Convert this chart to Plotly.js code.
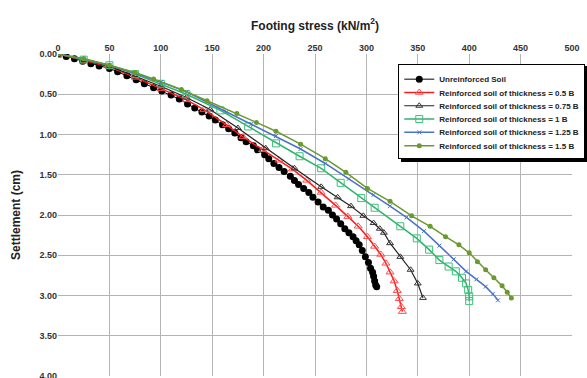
<!DOCTYPE html>
<html>
<head>
<meta charset="utf-8">
<script src="https://cdn.plot.ly/plotly-3.0.1.min.js"></script>
<style>html,body{margin:0;padding:0;background:#fff;overflow:hidden;}#chart{width:587px;height:378px;}</style>
</head>
<body>
<div id="chart"></div>
<script>
const seriesNames = [
  "Unreinforced Soil",
  "Reinforced soil of thickness = 0.5 B",
  "Reinforced soil of thickness = 0.75 B",
  "Reinforced soil of thickness = 1 B",
  "Reinforced soil of thickness = 1.25 B",
  "Reinforced soil of thickness = 1.5 B"
];

const unrStress = [0,8,16,24,32,40,50,58,67,76,84,93,101,110,118,126,133,140,147,153,160,166,172,178,183,190,194,201,205,210,215,220,226,230,234,239,244,248,253,258,263,267,271,275,279,283,287,290,293,296,299,302,304,306,307,308,309,310];
const unrSettle = [0,0.03,0.06,0.09,0.12,0.15,0.18,0.22,0.27,0.32,0.37,0.42,0.46,0.51,0.56,0.62,0.67,0.72,0.77,0.82,0.88,0.93,0.98,1.04,1.09,1.14,1.19,1.25,1.30,1.36,1.41,1.46,1.52,1.57,1.62,1.67,1.72,1.78,1.84,1.90,1.94,2.00,2.05,2.11,2.17,2.22,2.27,2.32,2.37,2.44,2.52,2.59,2.66,2.71,2.76,2.82,2.87,2.89];

const r05Stress = [0,25,50,75,100,125,142,164,180,199,215,228,242,256,270,282,292,301,308,314,319,323,327,330,332,334,335];
const r05Settle = [0,0.08,0.16,0.29,0.43,0.57,0.69,0.88,1.03,1.19,1.32,1.43,1.57,1.72,1.88,2.02,2.14,2.27,2.39,2.49,2.60,2.71,2.82,2.94,3.04,3.14,3.20];

const r075Stress = [0,25,50,75,100,125,148,175,202,230,256,272,285,297,307,313,317,323,333,343,350,355];
const r075Settle = [0,0.07,0.15,0.27,0.40,0.54,0.69,0.92,1.17,1.42,1.65,1.78,1.89,2.01,2.10,2.17,2.22,2.35,2.52,2.68,2.85,3.03];

const r1Stress = [0,25,50,75,100,125,158,185,212,235,256,275,295,308,333,349,361,371,380,387,393,397,399,400,400];
const r1Settle = [0,0.07,0.14,0.25,0.37,0.50,0.70,0.90,1.11,1.27,1.42,1.60,1.79,1.91,2.14,2.29,2.43,2.56,2.64,2.70,2.78,2.85,2.93,3.01,3.07];

const r125Stress = [0,25,50,75,100,125,164,188,212,236,260,283,307,323,339,356,371,385,397,407,416,423,428];
const r125Settle = [0,0.06,0.14,0.24,0.35,0.47,0.72,0.87,1.02,1.18,1.36,1.55,1.75,1.89,2.03,2.20,2.38,2.55,2.70,2.80,2.89,2.98,3.06];

const r15Stress = [0,25,50,75,93,120,145,174,193,212,236,260,280,301,323,344,362,377,390,400,408,416,424,432,437,441];
const r15Settle = [0,0.06,0.14,0.23,0.31,0.44,0.58,0.74,0.85,0.96,1.12,1.30,1.47,1.67,1.83,2.01,2.14,2.27,2.37,2.47,2.58,2.68,2.78,2.88,2.96,3.03];

const xTicks = [0,50,100,150,200,250,300,350,400,450,500];
const yTicks = [0,0.5,1,1.5,2,2.5,3,3.5,4];

const xs = [unrStress, r05Stress, r075Stress, r1Stress, r125Stress, r15Stress];
const ys = [unrSettle, r05Settle, r075Settle, r1Settle, r125Settle, r15Settle];
const colors = ["#000000", "#ff1a1a", "#222222", "#2fb36a", "#4a72c8", "#6a9a2f"];
const markers = [
  {symbol: "circle", size: 7, color: "#000000"},
  {symbol: "triangle-up-open", size: 7, color: "#ff4d4d", line: {width: 1}},
  {symbol: "triangle-up-open", size: 6, color: "#333333", line: {width: 1}},
  {symbol: "square-open", size: 7, color: "#3cc07a", line: {width: 1}},
  {symbol: "x-thin-open", size: 4, color: "#4a72c8", line: {width: 1}},
  {symbol: "circle", size: 5, color: "#6a9a2f"}
];
const lineWidths = [1, 1.5, 1.2, 1.5, 1.5, 1.5];

const traces = seriesNames.map((n, i) => ({
  type: "scatter",
  mode: "lines+markers",
  name: n,
  x: xs[i],
  y: ys[i],
  line: {color: colors[i], width: lineWidths[i]},
  marker: markers[i]
}));

const layout = {
  width: 587, height: 378,
  margin: {l: 58, r: 5, t: 54, b: 1.5},
  paper_bgcolor: "#ffffff",
  plot_bgcolor: "#ffffff",
  font: {family: "Liberation Sans, Arial, sans-serif", color: "#222"},
  xaxis: {
    side: "top",
    range: [0, 500],
    tickvals: xTicks,
    ticktext: xTicks.map(String),
    showgrid: true, gridcolor: "#b4b4b4", gridwidth: 1,
    zeroline: false, showline: false,
    ticks: "", ticklen: 0,
    ticklabeloverflow: "allow",
    tickfont: {size: 9, color: "#333", weight: "bold"},
    title: {text: "Footing stress (kN/m<sup>2</sup>)", font: {size: 12, color: "#222", weight: "bold"}, standoff: 10}
  },
  yaxis: {
    range: [4, 0],
    tickvals: yTicks,
    ticktext: yTicks.map(v => v.toFixed(2)),
    showgrid: true, gridcolor: "#b4b4b4", gridwidth: 1,
    zeroline: false, showline: false,
    ticks: "", ticklen: 0,
    ticklabeloverflow: "allow",
    tickfont: {size: 9, color: "#333", weight: "bold"},
    title: {text: "Settlement (cm)", font: {size: 12, color: "#222", weight: "bold"}, standoff: 16}
  },
  legend: {
    x: 0.662, y: 0.97, xanchor: "left", yanchor: "top",
    bgcolor: "#ffffff",
    bordercolor: "#000000", borderwidth: 1,
    font: {size: 8, color: "#222", weight: "bold"},
    itemwidth: 30,
    tracegroupgap: 0
  },
  showlegend: true
};

Plotly.newPlot("chart", traces, layout, {displayModeBar: false, staticPlot: true}).then(gd => {
  const leg = gd.querySelector("g.legend");
  if (!leg) return;
  const items = Array.from(leg.querySelectorAll("g.traces"));
  if (!items.length) return;
  const parseY = el => {
    const m = /translate\(\s*([-\d.]+)[ ,]+([-\d.]+)/.exec(el.getAttribute("transform") || "");
    return m ? [parseFloat(m[1]), parseFloat(m[2])] : [0, 0];
  };
  const [x0, y0] = parseY(items[0]);
  const [, yLast] = parseY(items[items.length - 1]);
  const spacing = 13.3;
  items.forEach((it, i) => {
    const [xi] = parseY(it);
    it.setAttribute("transform", "translate(" + xi + "," + (y0 + i * spacing) + ")");
  });
  const newLast = y0 + (items.length - 1) * spacing;
  const bg = leg.querySelector("rect.bg");
  if (bg) {
    const h = parseFloat(bg.getAttribute("height"));
    const nh = h - (yLast - newLast) - 2;
    bg.setAttribute("height", nh);
    const shadow = bg.cloneNode(false);
    shadow.removeAttribute("class");
    shadow.setAttribute("x", (parseFloat(bg.getAttribute("x")) || 0) + 2.5);
    shadow.setAttribute("y", (parseFloat(bg.getAttribute("y")) || 0) + 2.5);
    shadow.style.fill = "#000";
    shadow.style.stroke = "#000";
    shadow.style.strokeWidth = "1px";
    bg.parentNode.insertBefore(shadow, bg);
  }
});
</script>
</body>
</html>
